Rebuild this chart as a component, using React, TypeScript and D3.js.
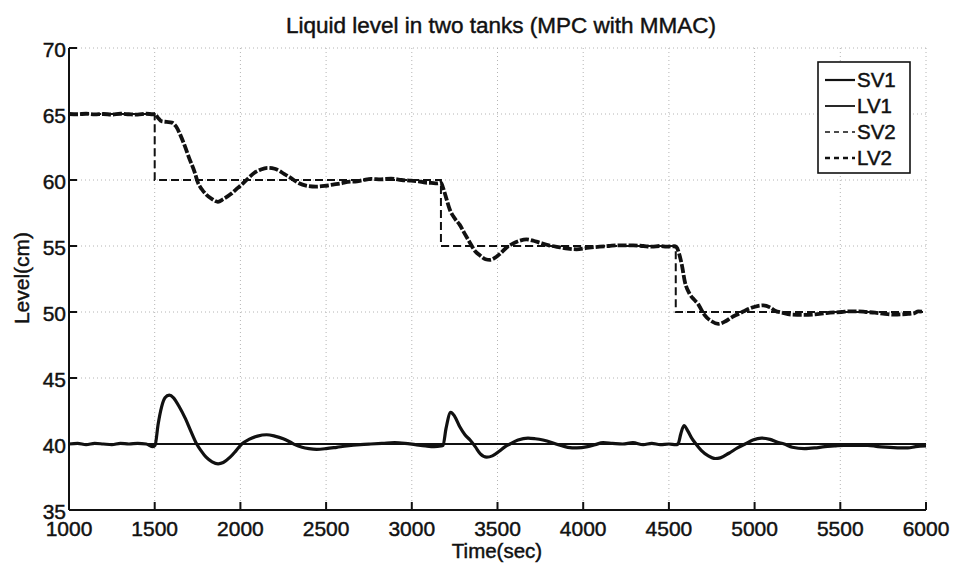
import React from "react";
import * as d3 from "d3";

const TITLE = "Liquid level in two tanks (MPC with MMAC)";
const X_LABEL = "Time(sec)";
const Y_LABEL = "Level(cm)";
const X_TICKS = [1000, 1500, 2000, 2500, 3000, 3500, 4000, 4500, 5000, 5500, 6000];
const Y_TICKS = [35, 40, 45, 50, 55, 60, 65, 70];
const LEGEND = ["SV1", "LV1", "SV2", "LV2"];

// Set-point of tank 1 (constant)
const SV1: [number, number][] = [
  [1000, 40], [6000, 40],
];

// Set-point of tank 2 (steps)
const SV2: [number, number][] = [
  [1000, 65], [1500, 65], [1500, 60], [3170, 60], [3170, 55], [4540, 55], [4540, 50], [6000, 50],
];

// Level of tank 1
const LV1: [number, number][] = [
  [1000, 40.0], [1050, 40.05], [1100, 39.95], [1150, 40.05], [1200, 40.0], [1250, 39.95],
  [1300, 40.05], [1350, 40.0], [1400, 40.05], [1450, 40.0], [1490, 39.8], [1502, 39.9],
  [1520, 41.5], [1540, 42.8], [1560, 43.5], [1585, 43.7], [1610, 43.5], [1640, 42.9],
  [1680, 41.9], [1710, 41.0], [1745, 40.0], [1770, 39.5], [1800, 39.0], [1835, 38.65],
  [1870, 38.5], [1900, 38.6], [1940, 39.0], [1975, 39.5], [2008, 40.0], [2050, 40.35],
  [2100, 40.6], [2153, 40.7], [2200, 40.6], [2250, 40.4], [2290, 40.15], [2318, 39.95],
  [2360, 39.75], [2400, 39.65], [2445, 39.6], [2500, 39.65], [2562, 39.75], [2620, 39.85],
  [2700, 39.95], [2760, 40.0], [2830, 40.05], [2900, 40.1], [2960, 40.05], [3020, 39.95],
  [3080, 39.85], [3130, 39.8], [3170, 39.85], [3182, 39.9], [3200, 41.2], [3227, 42.4],
  [3250, 42.1], [3280, 41.3], [3310, 40.7], [3340, 40.3], [3370, 39.8], [3400, 39.25],
  [3437, 39.0], [3470, 39.1], [3510, 39.45], [3545, 39.8], [3573, 40.0], [3620, 40.3],
  [3678, 40.45], [3720, 40.4], [3765, 40.3], [3820, 40.1], [3865, 39.9], [3910, 39.75],
  [3962, 39.7], [4026, 39.8], [4070, 39.95], [4116, 40.1], [4170, 40.05], [4230, 40.0],
  [4290, 40.1], [4350, 39.95], [4400, 40.05], [4450, 39.95], [4500, 40.0], [4540, 39.95],
  [4553, 40.0], [4570, 40.8], [4588, 41.4], [4610, 41.0], [4635, 40.4], [4658, 40.0],
  [4690, 39.5], [4730, 39.1], [4770, 38.9], [4800, 38.95], [4850, 39.3], [4900, 39.7],
  [4945, 40.0], [4990, 40.3], [5040, 40.45], [5090, 40.35], [5130, 40.15], [5173, 40.0],
  [5220, 39.75], [5290, 39.65], [5350, 39.7], [5410, 39.8], [5465, 39.85], [5520, 39.9],
  [5600, 39.9], [5660, 39.9], [5720, 39.8], [5790, 39.75], [5850, 39.7], [5894, 39.7],
  [5940, 39.8], [6000, 39.85],
];

// Level of tank 2
const LV2: [number, number][] = [
  [1000, 65.0], [1050, 64.98], [1100, 65.02], [1150, 64.97], [1200, 65.0], [1250, 64.96],
  [1300, 65.02], [1350, 64.98], [1400, 64.95], [1450, 65.02], [1490, 64.98], [1500, 65.0],
  [1520, 64.7], [1540, 64.45], [1570, 64.4], [1600, 64.35], [1625, 64.05], [1650, 63.4],
  [1675, 62.6], [1700, 61.7], [1733, 60.6], [1752, 59.8], [1775, 59.3], [1800, 58.9],
  [1835, 58.55], [1869, 58.35], [1900, 58.55], [1946, 58.95], [1985, 59.4], [2024, 59.85],
  [2055, 60.25], [2082, 60.55], [2120, 60.8], [2160, 60.92], [2200, 60.85], [2257, 60.45],
  [2300, 60.1], [2335, 59.8], [2393, 59.55], [2440, 59.5], [2490, 59.55], [2540, 59.65],
  [2590, 59.75], [2626, 59.85], [2680, 59.9], [2720, 60.0], [2762, 60.08], [2820, 60.05],
  [2879, 60.1], [2940, 60.0], [2996, 59.95], [3040, 59.9], [3080, 59.8], [3113, 59.78],
  [3150, 59.75], [3170, 59.8], [3180, 59.5], [3197, 58.8], [3222, 57.75], [3250, 57.1],
  [3280, 56.6], [3310, 55.9], [3339, 55.25], [3370, 54.6], [3397, 54.3], [3430, 54.0],
  [3456, 53.95], [3490, 54.15], [3514, 54.4], [3550, 54.85], [3592, 55.2], [3630, 55.4],
  [3669, 55.5], [3710, 55.4], [3747, 55.25], [3800, 55.05], [3864, 54.9], [3910, 54.8],
  [3961, 54.75], [4020, 54.85], [4097, 54.95], [4150, 55.0], [4200, 55.05], [4292, 55.05],
  [4350, 55.0], [4400, 54.95], [4450, 55.0], [4486, 54.95], [4530, 54.98], [4545, 54.9],
  [4560, 54.4], [4575, 53.6], [4593, 52.3], [4622, 51.35], [4650, 50.9], [4671, 50.6],
  [4690, 50.15], [4710, 49.75], [4749, 49.3], [4788, 49.1], [4830, 49.3], [4866, 49.6],
  [4905, 49.85], [4944, 50.1], [5002, 50.4], [5051, 50.5], [5090, 50.35], [5119, 50.1],
  [5160, 49.95], [5216, 49.8], [5280, 49.78], [5352, 49.82], [5420, 49.92], [5508, 50.0],
  [5560, 50.05], [5605, 50.05], [5650, 50.0], [5702, 49.95], [5760, 49.85], [5819, 49.8],
  [5860, 49.82], [5897, 49.85], [5930, 49.9], [5955, 50.05], [5985, 50.0],
];

const W = 955;
const H = 566;
const M = { left: 69, right: 926, top: 48, bottom: 510 };
const FONT = "'Liberation Sans', Arial, Helvetica, sans-serif";
const INK = "#111";

export default function App() {
  const x = d3.scaleLinear().domain([1000, 6000]).range([M.left, M.right]);
  const y = d3.scaleLinear().domain([35, 70]).range([M.bottom, M.top]);
  const line = d3.line<[number, number]>().x((d) => x(d[0])).y((d) => y(d[1]));
  const smooth = d3
    .line<[number, number]>()
    .x((d) => x(d[0]))
    .y((d) => y(d[1]))
    .curve(d3.curveMonotoneX);

  const legendX = 818;
  const legendY = 62;
  const legendW = 92;
  const legendH = 111;
  const legendRows = [80, 106, 132, 158];
  const legendStyles = [
    { w: 2.2, dash: "none" },
    { w: 1.8, dash: "none" },
    { w: 1.5, dash: "5,4" },
    { w: 2.4, dash: "5,4" },
  ];

  const textStroke = { stroke: INK, strokeWidth: 0.45 };

  return (
    <svg
      width={W}
      height={H}
      viewBox={`0 0 ${W} ${H}`}
      style={{ position: "absolute", left: 0, top: 0, background: "#fff" }}
      fontFamily={FONT}
    >
      <rect x={0} y={0} width={W} height={H} fill="#fff" />
      {/* grid */}
      <g stroke="#b4b4b4" strokeWidth={1} strokeDasharray="1,3">
        {X_TICKS.filter((t) => t !== 1000).map((t) => (
          <line key={"gx" + t} x1={x(t)} x2={x(t)} y1={M.top} y2={M.bottom} />
        ))}
        {Y_TICKS.filter((t) => t !== 35).map((t) => (
          <line key={"gy" + t} x1={M.left} x2={M.right} y1={y(t)} y2={y(t)} />
        ))}
      </g>

      {/* set-points */}
      <path d={line(SV1) || ""} fill="none" stroke={INK} strokeWidth={2} />
      <path d={line(SV2) || ""} fill="none" stroke={INK} strokeWidth={2} strokeDasharray="8,4" />

      {/* levels */}
      <path d={smooth(LV1) || ""} fill="none" stroke={INK} strokeWidth={3.2} strokeLinejoin="round" />
      <path
        d={smooth(LV2) || ""}
        fill="none"
        stroke={INK}
        strokeWidth={3.8}
        strokeDasharray="9,2"
        strokeLinejoin="round"
      />

      {/* axes */}
      <g stroke={INK} strokeWidth={2}>
        <line x1={M.left} x2={M.left} y1={M.top} y2={M.bottom} />
        <line x1={M.left} x2={M.right} y1={M.bottom} y2={M.bottom} />
        {X_TICKS.map((t) => (
          <line key={"tx" + t} x1={x(t)} x2={x(t)} y1={M.bottom} y2={M.bottom - 8} />
        ))}
        {Y_TICKS.map((t) => (
          <line key={"ty" + t} x1={M.left} x2={M.left + 8} y1={y(t)} y2={y(t)} />
        ))}
      </g>

      {/* tick labels */}
      <g fill={INK} fontSize={21} {...textStroke}>
        {X_TICKS.map((t) => (
          <text key={"lx" + t} x={x(t)} y={M.bottom + 26} textAnchor="middle">
            {t}
          </text>
        ))}
        {Y_TICKS.map((t) => (
          <text key={"ly" + t} x={M.left - 3} y={y(t) + 9} textAnchor="end">
            {t}
          </text>
        ))}
      </g>

      {/* labels */}
      <text x={501} y={33} textAnchor="middle" fontSize={22.5} fill={INK} {...textStroke}>
        {TITLE}
      </text>
      <text x={497} y={558} textAnchor="middle" fontSize={20.5} fill={INK} {...textStroke}>
        {X_LABEL}
      </text>
      <text
        transform={`translate(29,278) rotate(-90)`}
        textAnchor="middle"
        fontSize={21}
        fill={INK}
        {...textStroke}
      >
        {Y_LABEL}
      </text>

      {/* legend */}
      <rect x={legendX} y={legendY} width={legendW} height={legendH} fill="#fff" stroke={INK} strokeWidth={1.6} />
      {LEGEND.map((name, i) => (
        <g key={name}>
          <line
            x1={legendX + 7}
            x2={legendX + 37}
            y1={legendRows[i]}
            y2={legendRows[i]}
            stroke={INK}
            strokeWidth={legendStyles[i].w}
            strokeDasharray={legendStyles[i].dash}
          />
          <text x={legendX + 39} y={legendRows[i] + 7} fontSize={20.5} fill={INK} {...textStroke}>
            {name}
          </text>
        </g>
      ))}
    </svg>
  );
}
